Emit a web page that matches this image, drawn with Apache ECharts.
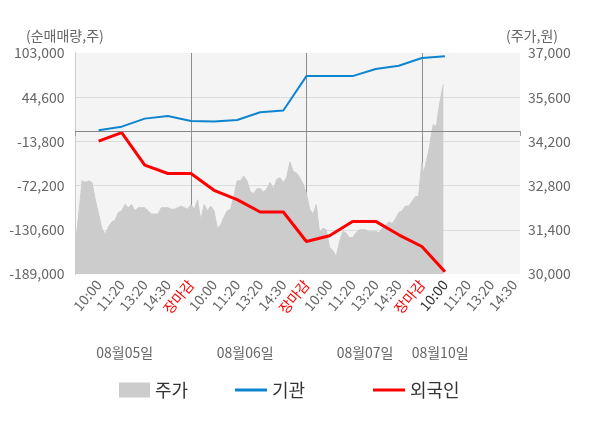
<!DOCTYPE html>
<html><head><meta charset="utf-8">
<script src="https://cdn.jsdelivr.net/npm/echarts@6/dist/echarts.min.js"></script>
<style>html,body{margin:0;padding:0;background:#fff}#c{width:600px;height:428px}</style>
</head><body><div id="c"></div>
<script>
// ---- data ----
const timeLabels = ['10:00','11:20','13:20','14:30','장마감','10:00','11:20','13:20','14:30','장마감','10:00','11:20','13:20','14:30','장마감','10:00','11:20','13:20','14:30'];
const labelPositions = [1,2,3,4,5,6,7,8,9,10,11,12,13,14,15,16,17,18,19];
const currentLabel = 15;
const dayLabels = ['08월05일','08월06일','08월07일','08월10일'];
const dayLabelPos = [2.13, 7.35, 12.54, 15.79];
const dayStarts = [0, 5, 10, 15];

const lineIndex = [1,2,3,4,5,6,7,8,9,10,11,12,13,14,15,16];
const institution = [1000, 5700, 16300, 19800, 13200, 12400, 14500, 24700, 27000, 72500, 72500, 72500, 81800, 86200, 96400, 98600];
const foreign = [-13400, -2300, -45200, -56200, -56200, -78400, -90800, -107100, -107100, -146100, -138500, -119500, -119500, -137200, -152700, -185900];

const priceDay1 = [30950, 31900, 32950, 32900, 32950, 32900, 32350, 31900, 31450, 31250, 31500, 31650, 31700, 31950, 32000, 32200, 32100, 32200, 32000, 32100, 32100, 32100, 32000, 31900, 31900, 31900, 32100, 32100, 32100, 32050, 32050, 32100, 32150, 32100, 32050];
const priceDay2 = [32200, 32050, 32350, 31700, 32200, 32000, 32150, 32000, 31450, 31550, 31800, 32000, 32050, 32450, 32950, 32950, 33100, 32950, 32600, 32550, 32700, 32700, 32600, 32700, 32900, 32700, 33000, 33050, 32900, 33050, 33550, 33250, 33200, 33050, 32850];
const priceDay3 = [32550, 32050, 31900, 32200, 31300, 31450, 31400, 30850, 30750, 30550, 31000, 31350, 31300, 31150, 31150, 31300, 31400, 31400, 31400, 31350, 31350, 31350, 31300, 31450, 31550, 31650, 31600, 31750, 31950, 32000, 32150, 32150, 32300, 32450, 32450];
const priceDay4 = [33550, 33200, 33400, 33650, 33850, 34150, 34500, 34750, 34650, 34750, 35150, 35450, 35750, 36000];
const priceSteps = [1/7, 1/7, 1/7, 1/14];

const leftMin = -189000, leftMax = 103000, leftInterval = 58400;
const rightMin = 30000, rightMax = 37000, rightInterval = 1400;

// ---- build ----
const priceDays = [priceDay1, priceDay2, priceDay3, priceDay4];
const pricePoints = [];
priceDays.forEach((arr, d) => arr.forEach((v, k) => pricePoints.push([dayStarts[d] + k * priceSteps[d], v])));
const instPoints = lineIndex.map((x, i) => [x, institution[i]]);
const forPoints = lineIndex.map((x, i) => [x, foreign[i]]);

const FONT = "'Noto Sans CJK KR','Noto Sans',sans-serif";
const chart = echarts.init(document.getElementById('c'), null, {renderer: 'canvas'});
const fmt = v => Number(v).toLocaleString('en-US');
const legendBase = {top: 376, itemWidth: 31, itemHeight: 15, selectedMode: false,
  textStyle: {fontSize: 18, color: '#333', fontFamily: FONT}};

chart.setOption({
  animation: false,
  textStyle: {fontFamily: FONT},
  title: [
    {text: '(순매매량,주)', left: 21, top: 24, textStyle: {fontSize: 14, fontWeight: 'normal', color: '#666', fontFamily: FONT}},
    {text: '(주가,원)', right: 37, top: 24, textStyle: {fontSize: 14, fontWeight: 'normal', color: '#666', fontFamily: FONT}}
  ],
  grid: {left: 75.5, right: 80, top: 53, bottom: 154, show: true, backgroundColor: '#f4f4f4', borderWidth: 0},
  legend: [
    Object.assign({}, legendBase, {left: 114, data: [{name: '주가', icon: 'rect'}]}),
    Object.assign({}, legendBase, {left: 230, itemWidth: 32, itemHeight: 3, data: [{name: '기관', icon: 'rect'}]}),
    Object.assign({}, legendBase, {left: 368, itemWidth: 32, itemHeight: 3, data: [{name: '외국인', icon: 'rect'}]})
  ],
  xAxis: [
    {type: 'value', min: 0, max: 19.25, interval: 5,
     axisLine: {show: true, lineStyle: {color: '#999'}},
     axisTick: {show: true, length: 5, lineStyle: {color: '#999'}},
     splitLine: {show: true, showMinLine: false, showMaxLine: false, lineStyle: {color: '#8c8c8c', width: 1}},
     axisLabel: {customValues: labelPositions, rotate: 50, fontSize: 14, color: '#666', margin: 8,
       formatter: function (v) {
         const i = labelPositions.indexOf(v);
         const t = timeLabels[i];
         if (t === '장마감') return '{r|' + t + '}';
         if (i === currentLabel) return '{d|' + t + '}';
         return t;
       },
       rich: {r: {color: '#ff0000', fontSize: 14, fontFamily: FONT}, d: {color: '#333', fontSize: 14, fontFamily: FONT}}
     }},
    {type: 'value', min: 0, max: 19.25, position: 'bottom', offset: 64,
     axisLine: {show: false}, axisTick: {show: false}, splitLine: {show: false},
     axisLabel: {customValues: dayLabelPos, fontSize: 14, color: '#666', margin: 8,
       formatter: v => dayLabels[dayLabelPos.indexOf(v)]}}
  ],
  yAxis: [
    {type: 'value', position: 'left', min: leftMin, max: leftMax, interval: leftInterval,
     axisLine: {show: true, lineStyle: {color: '#999'}}, axisTick: {show: false},
     splitLine: {show: true, showMinLine: false, showMaxLine: false, lineStyle: {color: '#dcdcdc'}},
     axisLabel: {fontSize: 14, color: '#666', margin: 11, formatter: fmt}},
    {type: 'value', position: 'right', min: rightMin, max: rightMax, interval: rightInterval,
     axisLine: {show: true, lineStyle: {color: '#ccc'}}, axisTick: {show: false}, splitLine: {show: false},
     axisLabel: {fontSize: 14, color: '#666', margin: 8, formatter: fmt}}
  ],
  series: [
    {name: '주가', type: 'line', xAxisIndex: 0, yAxisIndex: 1, data: pricePoints, showSymbol: false, z: 1,
     itemStyle: {color: '#cccccc'}, lineStyle: {color: '#cccccc', width: 1}, areaStyle: {color: '#cccccc', opacity: 1}},
    {name: '기관', type: 'line', xAxisIndex: 0, yAxisIndex: 0, data: instPoints, showSymbol: false, z: 3,
     itemStyle: {color: '#0d84d0'}, lineStyle: {color: '#0d84d0', width: 2},
     markLine: {silent: true, symbol: 'none', label: {show: false}, lineStyle: {color: '#888', width: 1, type: 'solid'}, data: [{yAxis: 0}]}},
    {name: '외국인', type: 'line', xAxisIndex: 0, yAxisIndex: 0, data: forPoints, showSymbol: false, z: 4,
     itemStyle: {color: '#ff0000'}, lineStyle: {color: '#ff0000', width: 3}}
  ]
});
</script></body></html>
